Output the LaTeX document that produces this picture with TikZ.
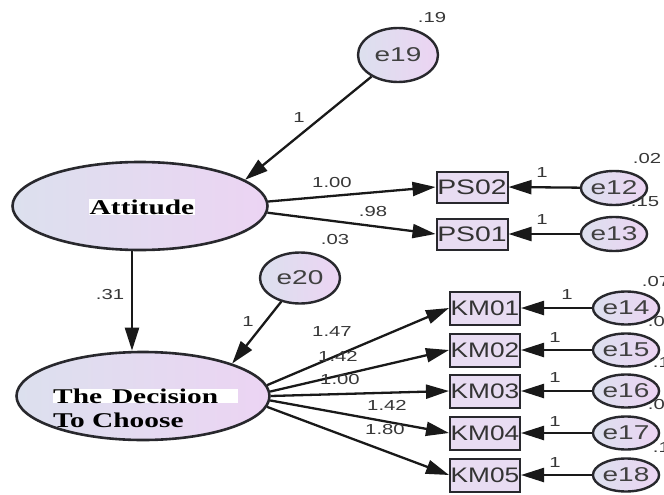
\documentclass[tikz,border=0pt]{standalone}
\usepackage{fontspec}
\setmainfont{Liberation Serif}
\setsansfont{Liberation Sans}
\usepackage{tikz}
\usetikzlibrary{shapes.geometric,arrows.meta}

\definecolor{lavL}{RGB}{220,224,238}
\definecolor{lavR}{RGB}{236,212,243}
\definecolor{boxfill}{RGB}{232,220,242}
\definecolor{lineGray}{RGB}{40,40,45}
\definecolor{numGray}{RGB}{55,55,55}
\newcommand{\wtxt}[2][1.4]{\scalebox{#1}[1]{#2}}

\begin{document}
\begin{tikzpicture}[x=1pt, y=-1pt,
  latent/.style={ellipse, draw=lineGray, line width=2.6pt, left color=lavL, right color=lavR, inner sep=0pt},
  errvar/.style={ellipse, draw=lineGray, line width=2.4pt, left color=lavL, right color=lavR, inner sep=0pt,
    font=\sffamily\fontsize{20}{20}\selectfont, text=black!75},
  obsbox/.style={rectangle, draw=lineGray, line width=2pt, fill=boxfill, inner sep=0pt,
    font=\sffamily\fontsize{21}{21}\selectfont, text=black!80},
  lvtext/.style={font=\bfseries\fontsize{21}{24}\selectfont, inner sep=1pt},
  coef/.style={font=\sffamily\fontsize{14.5}{14.5}\selectfont, text=numGray, inner sep=0pt},
  regpath/.style={-{Triangle[length=23pt,width=14pt]}, line width=2.3pt, draw=black!90}]

  % Cadre
  \useasboundingbox[fill=white] (0,0) rectangle (664,495);
  \clip (0,0) rectangle (664,495);

  % Variables latentes
  \node[latent, minimum width=255pt, minimum height=88pt] (Attitude) at (140,206) {};
  \node[lvtext, fill=white] (attTxt) at (142,207) {\wtxt{Attitude}};
  \node[latent, minimum width=253pt, minimum height=88pt] (Decision) at (143,396) {};
  \node[lvtext, fill=white, anchor=west, text width=185pt, inner sep=0pt, align=left] (decTxtA) at (53,396) {\wtxt{The Decision}};
  \node[lvtext, anchor=west, inner sep=0pt] (decTxtB) at (53,420) {\wtxt{To Choose}};

  % Erreurs des latentes
  \node[errvar, minimum width=80pt, minimum height=54pt] (e19) at (398,55) {\wtxt{e19}};
  \node[errvar, minimum width=80pt, minimum height=51pt] (e20) at (300,278) {\wtxt{e20}};

  % Indicateurs PS
  \node[obsbox, minimum width=71pt, minimum height=31pt] (PS02) at (472,187) {\wtxt[1.35]{PS02}};
  \node[obsbox, minimum width=71pt, minimum height=31pt] (PS01) at (472,234) {\wtxt[1.35]{PS01}};
  \node[errvar, minimum width=52pt, minimum height=34pt] (e12) at (614,188) {\wtxt{e12}};
  \node[errvar, minimum width=52pt, minimum height=34pt] (e13) at (614,234) {\wtxt{e13}};

  % Indicateurs KM
  \node[obsbox, minimum width=70pt, minimum height=33pt] (KM01) at (485,308) {\wtxt[1.25]{KM01}};
  \node[obsbox, minimum width=70pt, minimum height=33pt] (KM02) at (485,350) {\wtxt[1.25]{KM02}};
  \node[obsbox, minimum width=70pt, minimum height=33pt] (KM03) at (485,391) {\wtxt[1.25]{KM03}};
  \node[obsbox, minimum width=70pt, minimum height=33pt] (KM04) at (485,433) {\wtxt[1.25]{KM04}};
  \node[obsbox, minimum width=70pt, minimum height=33pt] (KM05) at (485,475) {\wtxt[1.25]{KM05}};
  \node[errvar, minimum width=52pt, minimum height=33pt] (e14) at (626,308) {\wtxt{e14}};
  \node[errvar, minimum width=52pt, minimum height=33pt] (e15) at (626,350) {\wtxt{e15}};
  \node[errvar, minimum width=52pt, minimum height=33pt] (e16) at (626,391) {\wtxt{e16}};
  \node[errvar, minimum width=52pt, minimum height=33pt] (e17) at (626,433) {\wtxt{e17}};
  \node[errvar, minimum width=52pt, minimum height=33pt] (e18) at (626,475) {\wtxt{e18}};

  % Chemins structurels
  \draw[regpath] (e19) -- (Attitude.14);
  \draw[regpath] ([xshift=-8pt]Attitude.south) -- ([xshift=-11pt]Decision.north);
  \draw[regpath] (e20) -- (Decision.20);

  % Saturations
  \draw[regpath] (Attitude.2) -- (PS02.west);
  \draw[regpath] (Attitude.-3) -- (PS01.west);
  \draw[regpath] (Decision.5) -- (KM01.west);
  \draw[regpath] (Decision.2.5) -- (KM02.west);
  \draw[regpath] (Decision.0) -- (KM03.west);
  \draw[regpath] (Decision.-2.5) -- (KM04.west);
  \draw[regpath] (Decision.-5) -- (KM05.west);

  % Erreurs de mesure
  \draw[regpath] (e12) -- (PS02.east);
  \draw[regpath] (e13) -- (PS01.east);
  \draw[regpath] (e14) -- (KM01.east);
  \draw[regpath] (e15) -- (KM02.east);
  \draw[regpath] (e16) -- (KM03.east);
  \draw[regpath] (e17) -- (KM04.east);
  \draw[regpath] (e18) -- (KM05.east);

  % Coefficients
  \node[coef] (v19) at (432,18) {\wtxt{.19}};
  \node[coef] (w19) at (299,118) {\wtxt{1}};
  \node[coef] (b31) at (110,295) {\wtxt{.31}};
  \node[coef] (v20) at (335,240) {\wtxt{.03}};
  \node[coef] (w20) at (248,322) {\wtxt{1}};
  \node[coef] (lPS02) at (332,183) {\wtxt{1.00}};
  \node[coef] (lPS01) at (373,212) {\wtxt{.98}};
  \node[coef] (w12) at (542,173) {\wtxt{1}};
  \node[coef] (w13) at (542,220) {\wtxt{1}};
  \node[coef] (v12) at (647,159) {\wtxt{.02}};
  \node[coef] (v13) at (645,202) {\wtxt{.15}};
  \node[coef] (lKM01) at (332,332) {\wtxt{1.47}};
  \node[coef] (lKM02) at (338,356) {\wtxt{1.42}};
  \node[coef] (lKM03) at (340,380) {\wtxt{1.00}};
  \node[coef] (lKM04) at (387,405) {\wtxt{1.42}};
  \node[coef] (lKM05) at (385,430) {\wtxt{1.80}};
  \node[coef] (w14) at (567,295) {\wtxt{1}};
  \node[coef] (w15) at (555,338) {\wtxt{1}};
  \node[coef] (w16) at (555,378) {\wtxt{1}};
  \node[coef] (w17) at (555,422) {\wtxt{1}};
  \node[coef] (w18) at (555,463) {\wtxt{1}};
  \node[coef] (v14) at (656,282) {\wtxt{.07}};
  \node[coef] (v15) at (662,322) {\wtxt{.01}};
  \node[coef] (v16) at (667,363) {\wtxt{.19}};
  \node[coef] (v17) at (662,405) {\wtxt{.01}};
  \node[coef] (v18) at (667,448) {\wtxt{.19}};
\end{tikzpicture}
\end{document}
